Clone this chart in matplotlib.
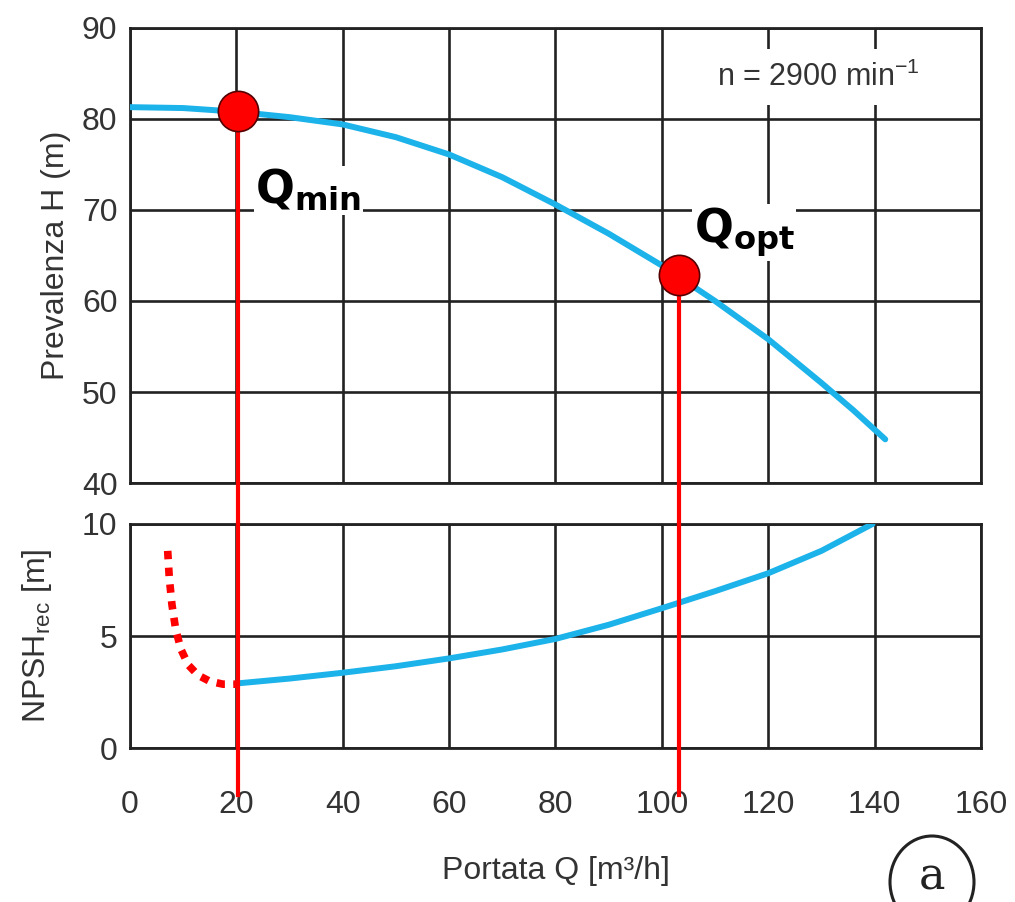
import matplotlib
matplotlib.use('Agg')
import matplotlib.pyplot as plt
from matplotlib.patches import Ellipse

plt.rcParams['font.family'] = ['Liberation Sans Narrow', 'Liberation Sans', 'DejaVu Sans']
plt.rcParams['mathtext.fontset'] = 'custom'
plt.rcParams['mathtext.rm'] = 'Liberation Sans'
plt.rcParams['mathtext.bf'] = 'DejaVu Sans:bold'

# curva prevalenza H(Q)
q_head = [0, 10, 20, 30, 40, 50, 60, 70, 80, 90, 100, 110, 120, 130, 136, 142]
head = [81.3, 81.2, 80.8, 80.2, 79.4, 78.0, 76.1, 73.6, 70.6, 67.4, 63.9, 60.0, 55.8, 51.0, 48.0, 44.8]

# curva NPSH richiesto
q_npsh = [20, 30, 40, 50, 60, 70, 80, 90, 100, 110, 120, 130, 139.6]
npsh = [2.88, 3.1, 3.36, 3.65, 4.0, 4.4, 4.87, 5.5, 6.24, 7.0, 7.8, 8.8, 10.0]

# tratto punteggiato sotto Qmin
q_dot = [7.1, 7.4, 7.9, 8.6, 9.6, 11.0, 12.8, 15.0, 17.5, 20.0]
npsh_dot = [8.8, 7.6, 6.4, 5.3, 4.4, 3.7, 3.25, 2.98, 2.85, 2.85]

q_min, h_min = 20.3, 80.9
q_opt, h_opt = 103.2, 62.9

x_ticks = [0, 20, 40, 60, 80, 100, 120, 140, 160]
h_ticks = [40, 50, 60, 70, 80, 90]
npsh_ticks = [0, 5, 10]

blue = '#1cb2ea'
red = '#ff0000'
txt = '#333333'

fig = plt.figure(figsize=(10.15, 9.02), dpi=100)
ax1 = fig.add_axes([0.128, 0.4645, 0.8385, 0.5045])
ax2 = fig.add_axes([0.128, 0.1707, 0.8385, 0.2484])

for ax in (ax1, ax2):
    ax.set_xlim(0, 160)
    ax.set_xticks(x_ticks)
    ax.grid(True, color='#222222', linewidth=1.9)
    ax.set_axisbelow(True)
    ax.tick_params(length=0, labelsize=23, labelcolor=txt, pad=9)
    for s in ax.spines.values():
        s.set_linewidth(2.0)
        s.set_color('#222222')

ax1.set_ylim(40, 90)
ax1.set_yticks(h_ticks)
ax1.set_xticklabels([])
ax1.set_ylabel('Prevalenza H (m)', fontsize=23, color=txt, labelpad=8)

ax2.set_ylim(0, 10)
ax2.set_yticks(npsh_ticks)
ax2.tick_params(axis='x', pad=30)
ax2.set_ylabel(r'NPSH$_{\rm rec}$ [m]', fontsize=23, color=txt, labelpad=20)
ax2.set_xlabel('Portata Q [m³/h]', fontsize=23, color=txt, labelpad=26)

ax1.plot(q_head, head, color=blue, linewidth=4.3, solid_capstyle='round', zorder=3)
ax2.plot(q_npsh, npsh, color=blue, linewidth=4.3, solid_capstyle='round', zorder=3)
ax2.plot(q_dot, npsh_dot, color=red, linewidth=5.5, linestyle=(0, (1.1, 1.1)),
         dash_capstyle='butt', zorder=3)

# linee verticali rosse fino sotto l'asse
for qx, hy in [(q_min, h_min), (q_opt, h_opt)]:
    ax1.plot([qx, qx], [hy, 35], color=red, linewidth=3, clip_on=False, zorder=4)
    ax2.plot([qx, qx], [10, -2.1], color=red, linewidth=3, clip_on=False, zorder=4)
    ax1.plot(qx, hy, 'o', markersize=29, markerfacecolor=red,
             markeredgecolor='#550000', markeredgewidth=1.2, zorder=5)

# etichette con fondo bianco sotto i marker
ax1.text(q_min + 3.2, 69.6, r'Q$_{\mathbf{min}}$', fontsize=33, fontweight='bold',
         family='DejaVu Sans', ha='left', va='bottom', zorder=2.5,
         bbox=dict(facecolor='white', edgecolor='none', pad=1))
ax1.text(q_opt + 2.8, 64.6, r'Q$_{\mathbf{opt}}$', fontsize=33, fontweight='bold',
         family='DejaVu Sans', ha='left', va='bottom', zorder=2.5,
         bbox=dict(facecolor='white', edgecolor='none', pad=1))

ax1.text(129.5, 84.6, 'n = 2900 min$^{-1}$', fontsize=22, color=txt, ha='center', va='center',
         zorder=6, bbox=dict(facecolor='white', edgecolor='none', pad=9))

fig.patches.append(Ellipse((932 / 1015, 1 - 882 / 902), 84 / 1015, 92 / 902,
                           transform=fig.transFigure, fill=False,
                           edgecolor='#222222', linewidth=2.2))
fig.text(932 / 1015, 1 - 877 / 902, 'a', fontsize=32, family='DejaVu Serif',
         ha='center', va='center', color='#222222')

fig.savefig('out.png', dpi=100)
